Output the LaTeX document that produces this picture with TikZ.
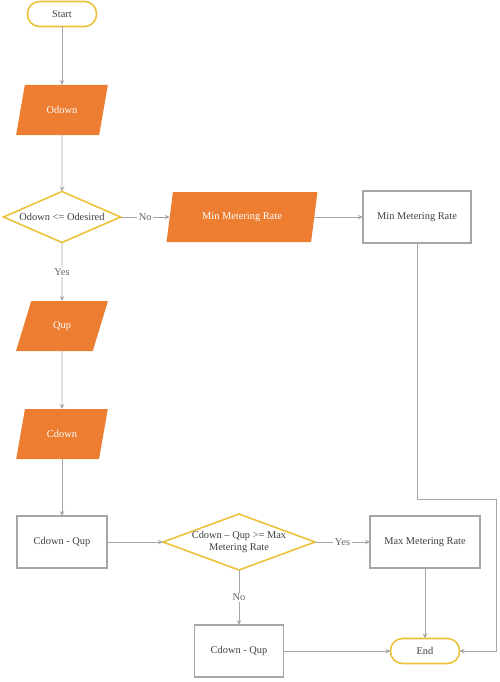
\documentclass[tikz,border=0pt]{standalone}
\usepackage{fontspec}
\setmainfont{Liberation Serif}
\usetikzlibrary{shapes.geometric,arrows.meta}
\definecolor{orng}{HTML}{ED7D31}
\definecolor{gold}{HTML}{EBC23A}
\definecolor{lgray}{HTML}{A6A6A6}
\definecolor{txt}{HTML}{404040}
\tikzset{
  base/.style={font=\fontsize{10.4}{11.5}\selectfont, text=txt, inner sep=0pt, outer sep=0pt, align=center},
  term/.style={base, draw=gold, line width=1.6pt, fill=white, rounded corners=12pt, minimum width=69pt, minimum height=25pt},
  io/.style={base, trapezium, trapezium left angle=64, trapezium right angle=116, trapezium stretches=true, fill=orng, text=white, minimum width=92pt, minimum height=50pt},
  iowide/.style={io, trapezium left angle=68, trapezium right angle=112, minimum width=152pt},
  proc/.style={base, draw=lgray, line width=1.3pt, fill=white, minimum width=90pt, minimum height=52pt},
  dec/.style={base, diamond, draw=gold, line width=1.6pt, fill=white},
  conn/.style={draw=lgray, line width=0.9pt, -{Stealth[length=5pt,width=4.5pt]}},
  lbl/.style={base, fill=white, inner sep=1.5pt, text=txt!80}
}
\begin{document}
\begin{tikzpicture}[x=1pt,y=-1pt]
\useasboundingbox (0,0) rectangle (500,682);
\node[term] (start) at (62,14) {Start};
\node[io] (odown) at (62,110) {Odown};
\node[dec, shape aspect=2.3, minimum width=117pt, minimum height=51pt] (d1) at (62,217) {Odown <= Odesired};
\node[iowide] (minp) at (242,217) {Min Metering Rate};
\node[proc, minimum width=108pt] (minr) at (417,217) {Min Metering Rate};
\node[io] (qup) at (62,326) {Qup};
\node[io] (cdown) at (62,434) {Cdown};
\node[proc] (cq1) at (62,542) {Cdown - Qup};
\node[dec, shape aspect=2.7, minimum width=152pt, minimum height=56pt] (d2) at (239,542) {Cdown -- Qup >= Max\\Metering Rate};
\node[proc, minimum width=110pt] (maxr) at (425,542) {Max Metering Rate};
\node[proc, minimum width=89pt] (cq2) at (239,651) {Cdown - Qup};
\node[term] (end) at (425,651) {End};
\coordinate (c1) at (417,499);
\coordinate (c2) at (496,499);
\coordinate (c3) at (496,651);

\draw[conn] (start) -- (odown);
\draw[conn] (odown) -- (d1);
\draw[conn] (d1.east) -- node[lbl] {No} (d1.east -| minp.west);
\draw[conn] (minp.east |- minr.west) -- (minr.west);
\draw[conn] (minr.south) -- (c1) -- (c2) -- (c3) -- (end.east);
\draw[conn] (d1.south) -- node[lbl, pos=0.5] {Yes} (qup.north);
\draw[conn] (qup) -- (cdown);
\draw[conn] (cdown) -- (cq1);
\draw[conn] (cq1.east) -- (d2.west);
\draw[conn] (d2.east) -- node[lbl] {Yes} (maxr.west);
\draw[conn] (d2.south) -- node[lbl] {No} (cq2.north);
\draw[conn] (maxr.south) -- (end.north);
\draw[conn] (cq2.east) -- (end.west);
\end{tikzpicture}
\end{document}
